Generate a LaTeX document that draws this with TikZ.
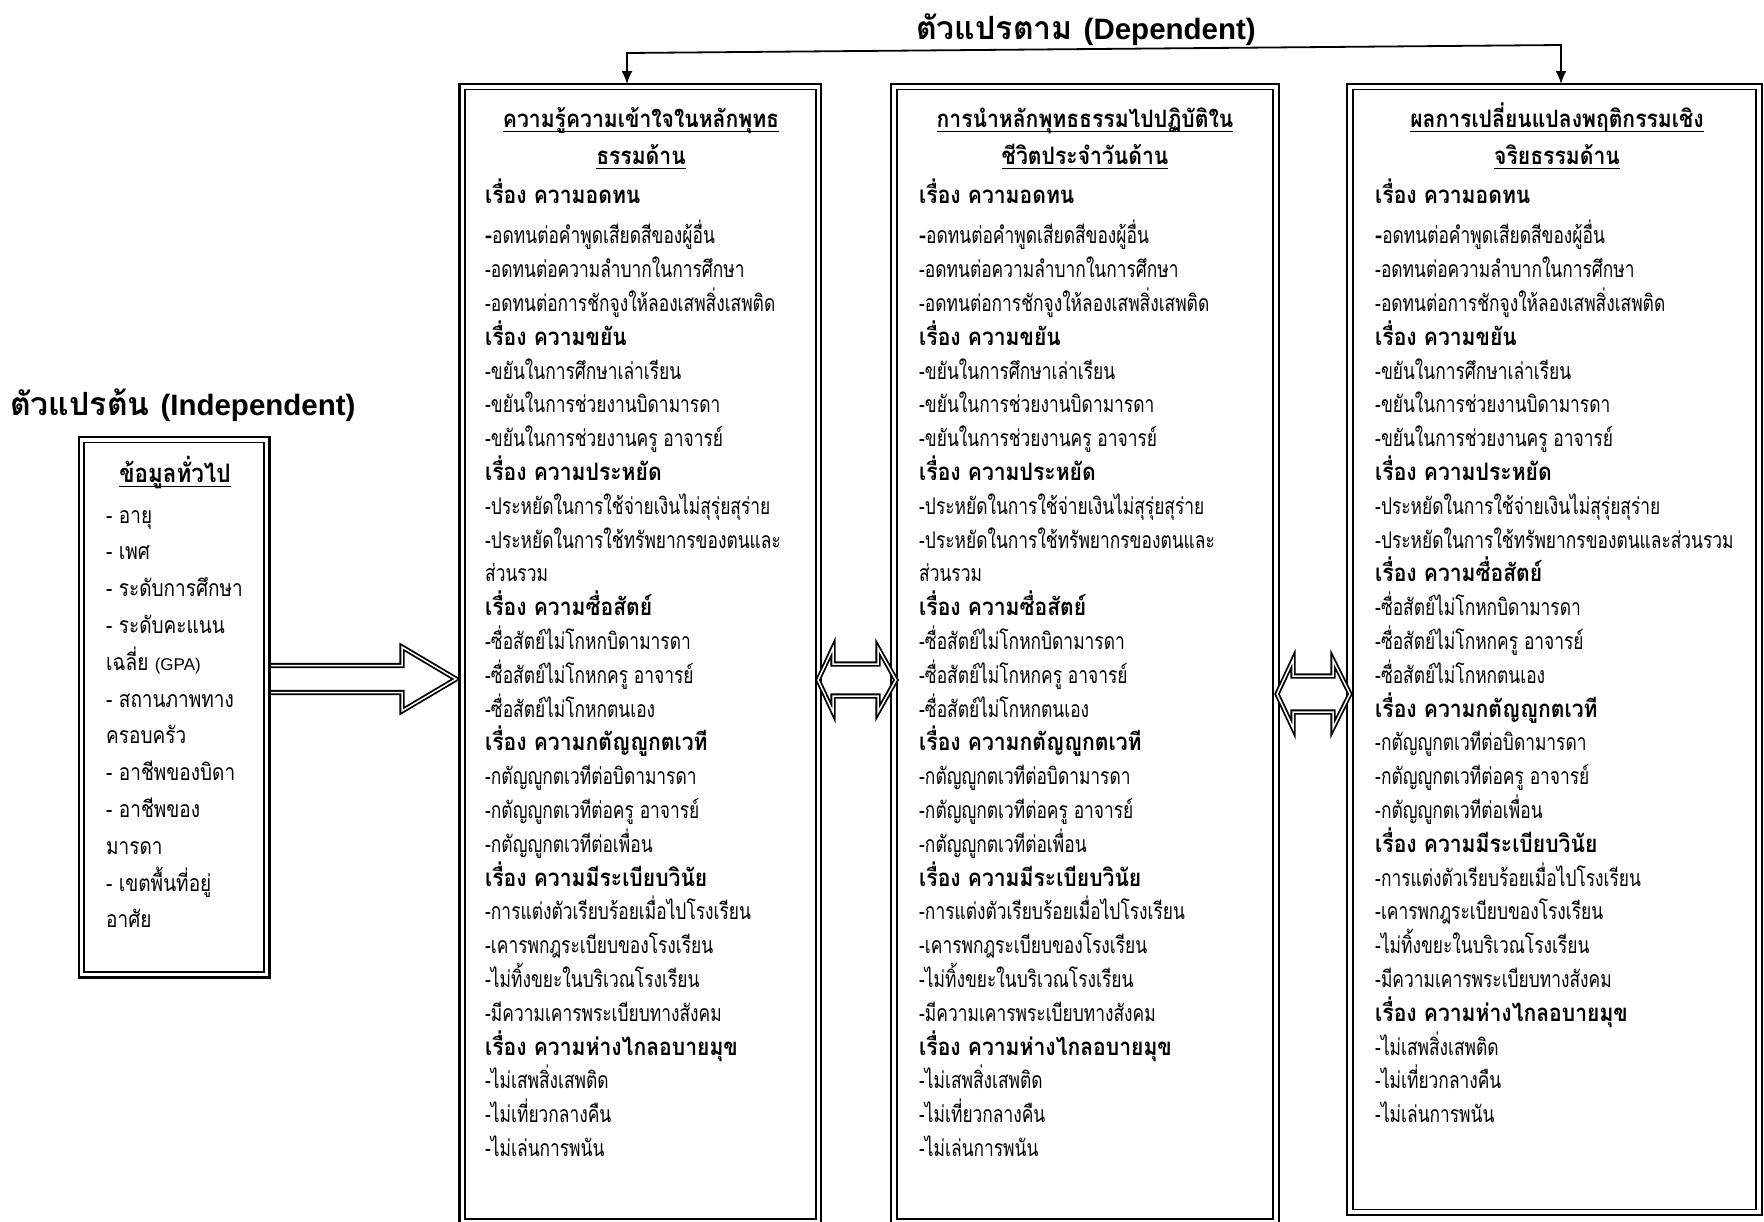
\documentclass[tikz,border=0pt]{standalone}
\usepackage{fontspec}
\newfontfamily\thaif[Script=Thai, FakeStretch=0.755]{Loma}
\newfontfamily\thail[Script=Thai, FakeStretch=0.826]{Loma}
\newfontfamily\thaib[Script=Thai, FakeStretch=0.88]{Loma}
\newfontfamily\thait[Script=Thai]{Loma}
\newfontfamily\latf{Liberation Sans}
\usetikzlibrary{arrows.meta}
\newcommand\thul[1]{\setbox0\hbox{#1}\rlap{\rule[-5pt]{\wd0}{1.5pt}}\box0}
\newcommand\thhead[1]{{\thaib\bfseries\fontsize{24}{28}\selectfont #1}}
\tikzset{
  outerbox/.style={draw, line width=2.4pt, inner sep=0pt, outer sep=0pt, anchor=north west},
  innerbox/.style={draw, line width=1.6pt},
  bodyline/.style={anchor=base west, inner sep=0pt, font=\thaif\fontsize{23}{27}\selectfont},
  leftline/.style={anchor=base west, inner sep=0pt, font=\thail\fontsize{23}{27}\selectfont},
  boxtitle/.style={anchor=base, inner sep=0pt, font=\thaib\bfseries\fontsize{24}{28}\selectfont},
  lefttitle/.style={anchor=base, inner sep=0pt, font=\thaib\bfseries\fontsize{25.5}{30}\selectfont},
  bigtitle/.style={inner sep=0pt, font=\thait\bfseries\fontsize{32}{36}\selectfont},
  conn/.style={draw, line width=1.8pt},
  blockarrow/.style={draw, line width=1.8pt, double=white, double distance=1.5pt, line join=miter}
}
\def\listAB{\thhead{เรื่อง ความอดทน},{\thhead{-}อดทนต่อคำพูดเสียดสีของผู้อื่น},-อดทนต่อความลำบากในการศึกษา,-อดทนต่อการชักจูงให้ลองเสพสิ่งเสพติด,\thhead{เรื่อง ความขยัน},-ขยันในการศึกษาเล่าเรียน,-ขยันในการช่วยงานบิดามารดา,-ขยันในการช่วยงานครู อาจารย์,\thhead{เรื่อง ความประหยัด},-ประหยัดในการใช้จ่ายเงินไม่สุรุ่ยสุร่าย,-ประหยัดในการใช้ทรัพยากรของตนและ,ส่วนรวม,\thhead{เรื่อง ความซื่อสัตย์},-ซื่อสัตย์ไม่โกหกบิดามารดา,-ซื่อสัตย์ไม่โกหกครู อาจารย์,-ซื่อสัตย์ไม่โกหกตนเอง,\thhead{เรื่อง ความกตัญญูกตเวที},-กตัญญูกตเวทีต่อบิดามารดา,-กตัญญูกตเวทีต่อครู อาจารย์,-กตัญญูกตเวทีต่อเพื่อน,\thhead{เรื่อง ความมีระเบียบวินัย},-การแต่งตัวเรียบร้อยเมื่อไปโรงเรียน,-เคารพกฎระเบียบของโรงเรียน,-ไม่ทิ้งขยะในบริเวณโรงเรียน,-มีความเคารพระเบียบทางสังคม,\thhead{เรื่อง ความห่างไกลอบายมุข},-ไม่เสพสิ่งเสพติด,-ไม่เที่ยวกลางคืน,-ไม่เล่นการพนัน}
\def\listC{\thhead{เรื่อง ความอดทน},{\thhead{-}อดทนต่อคำพูดเสียดสีของผู้อื่น},-อดทนต่อความลำบากในการศึกษา,-อดทนต่อการชักจูงให้ลองเสพสิ่งเสพติด,\thhead{เรื่อง ความขยัน},-ขยันในการศึกษาเล่าเรียน,-ขยันในการช่วยงานบิดามารดา,-ขยันในการช่วยงานครู อาจารย์,\thhead{เรื่อง ความประหยัด},-ประหยัดในการใช้จ่ายเงินไม่สุรุ่ยสุร่าย,-ประหยัดในการใช้ทรัพยากรของตนและส่วนรวม,\thhead{เรื่อง ความซื่อสัตย์},-ซื่อสัตย์ไม่โกหกบิดามารดา,-ซื่อสัตย์ไม่โกหกครู อาจารย์,-ซื่อสัตย์ไม่โกหกตนเอง,\thhead{เรื่อง ความกตัญญูกตเวที},-กตัญญูกตเวทีต่อบิดามารดา,-กตัญญูกตเวทีต่อครู อาจารย์,-กตัญญูกตเวทีต่อเพื่อน,\thhead{เรื่อง ความมีระเบียบวินัย},-การแต่งตัวเรียบร้อยเมื่อไปโรงเรียน,-เคารพกฎระเบียบของโรงเรียน,-ไม่ทิ้งขยะในบริเวณโรงเรียน,-มีความเคารพระเบียบทางสังคม,\thhead{เรื่อง ความห่างไกลอบายมุข},-ไม่เสพสิ่งเสพติด,-ไม่เที่ยวกลางคืน,-ไม่เล่นการพนัน}
\def\listL{- อายุ,- เพศ,- ระดับการศึกษา,- ระดับคะแนน,เฉลี่ย {\latf\fontsize{17}{20}\selectfont (GPA)},- สถานภาพทาง,ครอบครัว,- อาชีพของบิดา,- อาชีพของ,มารดา,- เขตพื้นที่อยู่,อาศัย}
\begin{document}
\begin{tikzpicture}[x=1pt,y=-1pt]
\useasboundingbox (0,0) rectangle (1764,1221);
\clip (0,0) rectangle (1764,1221);
\fill[white] (0,0) rectangle (1764,1221);
% titles
\node[bigtitle, anchor=base] (depT) at (1086,39) {ตัวแปรตาม {\latf\bfseries\fontsize{29.5}{34}\selectfont (Dependent)}};
\node[bigtitle, anchor=base west] (indT) at (10,415) {ตัวแปรต้น {\latf\bfseries\fontsize{29.5}{34}\selectfont (Independent)}};
% boxes
\node[outerbox, minimum width=361.7pt, minimum height=1140.5pt] (boxA) at (459.5,84) {};
\node[outerbox, minimum width=387.5pt, minimum height=1140.5pt] (boxB) at (891.2,84) {};
\node[outerbox, minimum width=414.5pt, minimum height=1131pt] (boxC) at (1347.2,84) {};
\node[outerbox, minimum width=190.8pt, minimum height=540.5pt] (boxL) at (78.7,437) {};
\foreach \b in {boxA,boxB,boxC,boxL}{
  \draw[innerbox] ([shift={(5.5,5.5)}]\b.north west) rectangle ([shift={(-5.5,-5.5)}]\b.south east);
}
% box titles
\node[boxtitle] (hA1) at (641,127) {\thul{ความรู้ความเข้าใจในหลักพุทธ}};
\node[boxtitle] (hA2) at (641,164) {\thul{ธรรมด้าน}};
\node[boxtitle] (hB1) at (1085,127) {\thul{การนำหลักพุทธธรรมไปปฏิบัติใน}};
\node[boxtitle] (hB2) at (1085,164) {\thul{ชีวิตประจำวันด้าน}};
\node[boxtitle] (hC1) at (1557,127) {\thul{ผลการเปลี่ยนแปลงพฤติกรรมเชิง}};
\node[boxtitle] (hC2) at (1557,164) {\thul{จริยธรรมด้าน}};
\node[lefttitle] (hL) at (175,482) {\thul{ข้อมูลทั่วไป}};
% body lines
\foreach \t [count=\i from 0] in \listAB {
  \pgfmathsetmacro\yy{\i==0 ? 203 : 210+33.8*\i}
  \node[bodyline] (tA-\i) at (485,\yy) {\t};
  \node[bodyline] (tB-\i) at (919,\yy) {\t};
}
\foreach \t [count=\i from 0] in \listC {
  \pgfmathsetmacro\yy{\i==0 ? 203 : 210+33.8*\i}
  \node[bodyline] (tC-\i) at (1375,\yy) {\t};
}
\foreach \t [count=\i from 0] in \listL {
  \pgfmathsetmacro\yy{523+36.8*\i}
  \node[leftline] (tL-\i) at (106,\yy) {\t};
}
% bracket connector
\coordinate (brL) at (627,53);
\coordinate (brR) at (1561,45);
\draw[conn, {Latex[length=13pt,width=11pt]}-{Latex[length=13pt,width=11pt]}] (brL |- boxA.north) -- (brL) -- (brR) -- (brR |- boxC.north);
% block arrows
\draw[blockarrow] (271,665.5) -- (402,665.5) -- (402,647) -- (456,679) -- (402,711) -- (402,692.5) -- (271,692.5);
\draw[blockarrow] (818,680) -- (833,648) -- (833,664) -- (878,664) -- (878,648) -- (896,680) -- (878,712) -- (878,696) -- (833,696) -- (833,712) -- cycle;
\draw[blockarrow] (1277,694) -- (1293,660) -- (1293,676) -- (1333,676) -- (1333,660) -- (1350,694) -- (1333,728) -- (1333,712) -- (1293,712) -- (1293,728) -- cycle;
\end{tikzpicture}
\end{document}
